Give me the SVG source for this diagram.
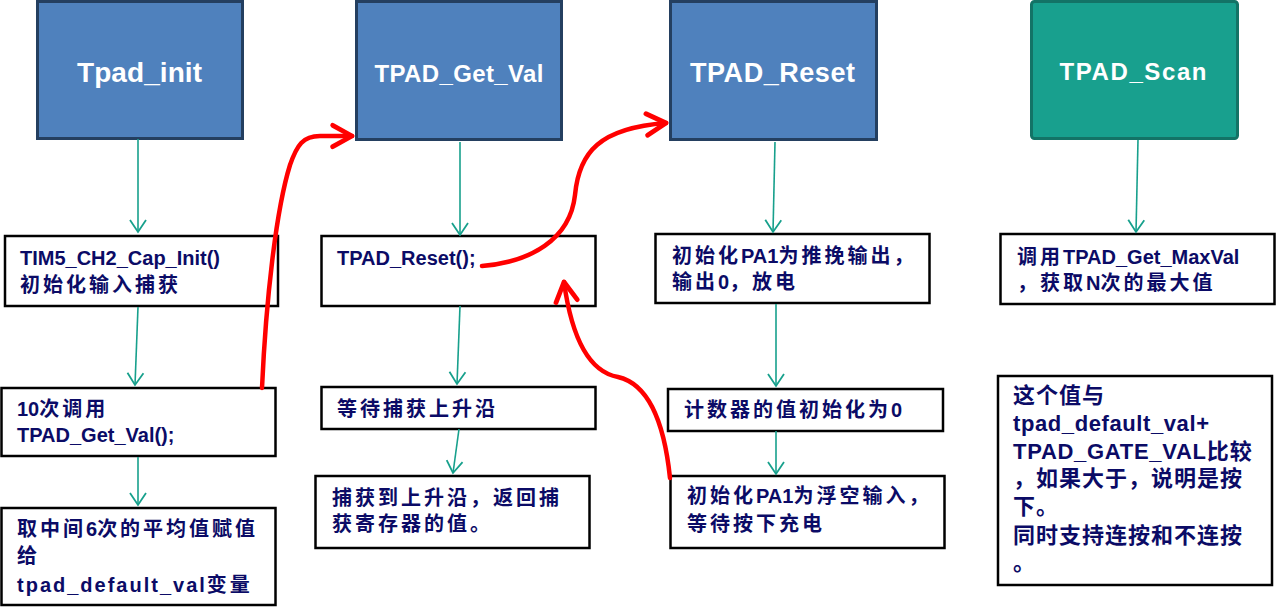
<svg xmlns="http://www.w3.org/2000/svg" width="1276" height="612" viewBox="0 0 1276 612">
<style>
.title{fill:#4F81BD;stroke:#243F60;stroke-width:3}
.scan{fill:#18A08E;stroke:#137366;stroke-width:3}
.box{fill:#fff;stroke:#000;stroke-width:2.5}
.tt{font-family:'Liberation Sans','Noto Sans CJK SC',sans-serif;font-weight:bold;fill:#fff;text-anchor:middle}
.t{font-family:'Liberation Sans','Noto Sans CJK SC',sans-serif;font-weight:bold;font-size:20px;fill:#0B0B66}
.t2{font-family:'Liberation Sans','Noto Sans CJK SC',sans-serif;font-weight:bold;font-size:22px;fill:#0B0B66}
.c{letter-spacing:3px}
.c2{letter-spacing:1px}
.g{fill:none;stroke:#17A08C;stroke-width:1.6}
.r{fill:none;stroke:#FF0000;stroke-width:4.5;stroke-linecap:round}
</style>
<defs>
<marker id="ag" markerUnits="userSpaceOnUse" markerWidth="20" markerHeight="20" viewBox="-2 -2 16 20" refX="12" refY="8" orient="auto">
<path d="M0,0 L12,8 L0,16" fill="none" stroke="#17A08C" stroke-width="1.8"/>
</marker>
<marker id="ar" markerUnits="userSpaceOnUse" markerWidth="30" markerHeight="30" viewBox="-4 -4 26 28" refX="18" refY="10" orient="auto">
<path d="M0,0 L18,10 L0,20" fill="none" stroke="#FF0000" stroke-width="4.5" stroke-linecap="round" stroke-linejoin="round"/>
</marker>
</defs>

<g id="tpad_init">
<rect class="title" x="37.5" y="1.5" width="205" height="137"/>
<text class="tt" x="139.5" y="82" font-size="28" textLength="125">Tpad_init</text>
</g>
<g id="tpad_get_val">
<rect class="title" x="356.5" y="1.5" width="205" height="138"/>
<text class="tt" x="459" y="82" font-size="24" textLength="169">TPAD_Get_Val</text>
</g>
<g id="tpad_reset">
<rect class="title" x="670.5" y="1.5" width="206" height="138"/>
<text class="tt" x="772.5" y="82" font-size="27" textLength="165">TPAD_Reset</text>
</g>
<g id="tpad_scan">
<rect class="scan" x="1031.5" y="1.5" width="206" height="137" rx="3"/>
<text class="tt" x="1133" y="80" font-size="24" textLength="147">TPAD_Scan</text>
</g>

<g id="n_tim5">
<rect class="box" x="5" y="236" width="273" height="70"/>
<text class="t" x="20" y="265">TIM5_CH2_Cap_Init()</text>
<text class="t" x="20" y="292"><tspan class="c">初始化输入捕获</tspan></text>
</g>
<g id="n_10x">
<rect class="box" x="1.5" y="388" width="274" height="68"/>
<text class="t" x="17" y="416">10<tspan class="c">次调用</tspan></text>
<text class="t" x="17" y="442">TPAD_Get_Val();</text>
</g>
<g id="n_avg">
<rect class="box" x="1.5" y="508" width="274" height="97"/>
<text class="t" x="17" y="536"><tspan class="c">取中间</tspan>6<tspan class="c">次的平均值赋值</tspan></text>
<text class="t" x="17" y="563">给</text>
<text class="t" x="17" y="592"><tspan letter-spacing="2">tpad_default_val</tspan><tspan class="c">变量</tspan></text>
</g>

<g id="n_reset_call">
<rect class="box" x="321.5" y="236" width="274" height="70"/>
<text class="t" x="337" y="265">TPAD_Reset();</text>
</g>
<g id="n_wait_rise">
<rect class="box" x="321.5" y="387" width="274" height="42"/>
<text class="t" x="337" y="416"><tspan class="c">等待捕获上升沿</tspan></text>
</g>
<g id="n_captured">
<rect class="box" x="315.5" y="476" width="274" height="72"/>
<text class="t" x="332" y="505"><tspan class="c">捕获到上升沿，返回捕</tspan></text>
<text class="t" x="332" y="531"><tspan class="c">获寄存器的值。</tspan></text>
</g>

<g id="n_pa1_out">
<rect class="box" x="655.5" y="234" width="274" height="69"/>
<text class="t" x="672" y="263"><tspan class="c">初始化</tspan>PA1<tspan class="c">为推挽输出，</tspan></text>
<text class="t" x="672" y="289"><tspan class="c">输出</tspan>0<tspan class="c">，放电</tspan></text>
</g>
<g id="n_counter">
<rect class="box" x="668" y="389" width="275" height="42"/>
<text class="t" x="684" y="417"><tspan class="c">计数器的值初始化为</tspan>0</text>
</g>
<g id="n_pa1_in">
<rect class="box" x="670.5" y="476" width="274" height="72"/>
<text class="t" x="687" y="503"><tspan class="c">初始化</tspan>PA1<tspan class="c">为浮空输入，</tspan></text>
<text class="t" x="687" y="531"><tspan class="c">等待按下充电</tspan></text>
</g>

<g id="n_maxval">
<rect class="box" x="1000.5" y="234" width="274" height="70"/>
<text class="t" x="1017" y="264"><tspan class="c">调用</tspan>TPAD_Get_MaxVal</text>
<text class="t" x="1017" y="290"><tspan class="c">，获取</tspan>N<tspan class="c">次的最大值</tspan></text>
</g>
<g id="n_compare">
<rect class="box" x="998" y="376" width="274" height="209"/>
<text class="t2" x="1013" y="403"><tspan class="c2">这个值与</tspan></text>
<text class="t2" x="1013" y="431" textLength="196">tpad_default_val+</text>
<text class="t2" x="1013" y="459"><tspan letter-spacing="0.7">TPAD_GATE_VAL</tspan><tspan class="c2">比较</tspan></text>
<text class="t2" x="1013" y="486"><tspan class="c2">，如果大于，说明是按</tspan></text>
<text class="t2" x="1013" y="514"><tspan class="c2">下。</tspan></text>
<text class="t2" x="1013" y="543"><tspan class="c2">同时支持连按和不连按</tspan></text>
<text class="t2" x="1013" y="570">。</text>
</g>

<g id="connectors">
<path class="g" d="M138,139 L138,232" marker-end="url(#ag)"/>
<path class="g" d="M138,307 L135,385" marker-end="url(#ag)"/>
<path class="g" d="M138,457 L138,505" marker-end="url(#ag)"/>
<path class="g" d="M460,142 L460,235" marker-end="url(#ag)"/>
<path class="g" d="M460,306 L457,384" marker-end="url(#ag)"/>
<path class="g" d="M459,429 L453,473" marker-end="url(#ag)"/>
<path class="g" d="M775,142 L773,232" marker-end="url(#ag)"/>
<path class="g" d="M776,304 L776,386" marker-end="url(#ag)"/>
<path class="g" d="M776,431 L776,474" marker-end="url(#ag)"/>
<path class="g" d="M1138,140 L1136,232" marker-end="url(#ag)"/>
<path class="r" d="M262,388 C266,300 276,210 290,165 C297,145 303,136 320,136 L352,136" marker-end="url(#ar)"/>
<path class="r" d="M482,266 C530,262 570,240 575,195 C579,152 600,128 666,123" marker-end="url(#ar)"/>
<path class="r" d="M670,478 C664,420 648,384 618,377 C590,372 572,340 564,282" marker-end="url(#ar)"/>
</g>
</svg>
